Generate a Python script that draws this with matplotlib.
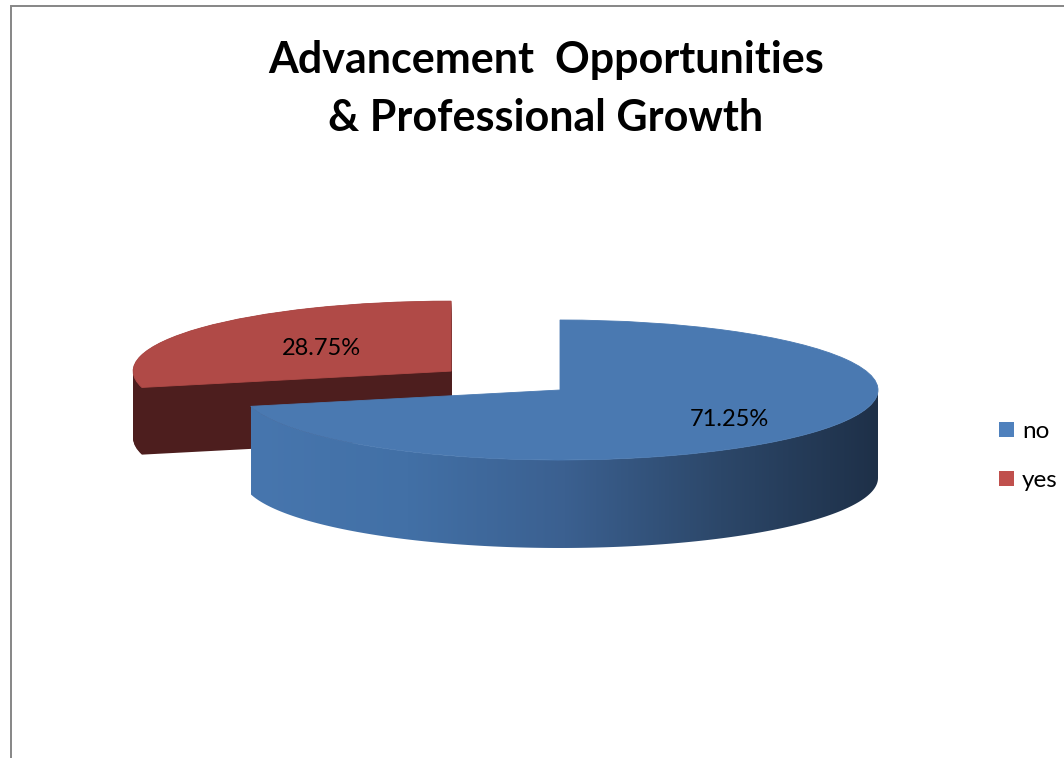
import matplotlib
matplotlib.use('Agg')
import matplotlib.pyplot as plt
import numpy as np
from matplotlib.patches import Polygon, Patch, Rectangle
from matplotlib.colors import LinearSegmentedColormap

plt.rcParams['font.family'] = ['Lato', 'DejaVu Sans']

# dados do grafico
categorias = ['no', 'yes']
percentuais = [71.25, 28.75]
explode = [0, 0.436]

titulo = 'Advancement  Opportunities\n& Professional Growth'

cor_topo = ['#4A79B1', '#B04A47']
cor_lado_verm = '#4D1E1E'
cor_legenda = ['#4F81BD', '#C0504D']

# altura da "fatia" em unidades de dados (y)
prof = [1.257, 0.96]
n_camadas = 80

fig = plt.figure(figsize=(10.64, 7.58), dpi=100)
ax = fig.add_axes([0, 0, 1, 1])

# moldura cinza do grafico
fig.patches.append(Rectangle((11 / 1064, -0.1), 1.2, 1.1 - 6 / 758,
                             transform=fig.transFigure, fill=False,
                             edgecolor='#868686', linewidth=1.4))

# lateral da fatia vermelha: varias pizzas empilhadas
for y0 in np.linspace(-prof[1], 0, n_camadas):
    ax.pie(percentuais, explode=explode, startangle=90, counterclock=False,
           center=(0, y0), colors=['none', cor_lado_verm],
           wedgeprops={'linewidth': 0, 'zorder': 1})

# topo das duas fatias
wedges, textos, autotextos = ax.pie(
    percentuais, explode=explode, startangle=90, counterclock=False,
    colors=cor_topo, autopct='%.2f%%', pctdistance=0.6,
    wedgeprops={'linewidth': 0.6, 'zorder': 4},
    textprops={'fontsize': 17, 'color': 'black'})
for wd, c in zip(wedges, cor_topo):
    wd.set_edgecolor(c)
wedges[1].set_zorder(1.5)

# lateral da fatia azul com degrade
w = wedges[0]
t1 = max(w.theta1, -180)
t2 = min(w.theta2, 0)
th = np.radians(np.linspace(t1, t2, 200))
cx, cy = w.center
topo = np.column_stack([cx + np.cos(th), cy + np.sin(th)])
base = np.column_stack([cx + np.cos(th[::-1]), cy + np.sin(th[::-1]) - prof[0]])
lado = Polygon(np.vstack([topo, base]), closed=True, transform=ax.transData)

cmap = LinearSegmentedColormap.from_list(
    'lado', ['#4776AE', '#4270A6', '#3B6090', '#2C4769', '#1E3048'])
grad = np.linspace(0, 1, 256).reshape(1, -1)
img = ax.imshow(grad, cmap=cmap, aspect='auto', zorder=3,
                interpolation='bilinear',
                extent=(cx + np.cos(th).min(), cx + 1, cy - prof[0] - 1.2, cy + 0.2))
img.set_clip_path(lado)

# posicao dos rotulos de porcentagem
dist = [0.68, 0.52]
for i, (wd, txt) in enumerate(zip(wedges, autotextos)):
    ang = np.radians((wd.theta1 + wd.theta2) / 2)
    x0, y0 = wd.center
    txt.set_position((x0 + dist[i] * np.cos(ang), y0 + dist[i] * np.sin(ang)))
    txt.set_zorder(6)

ax.set_aspect('auto')
ax.set_xlim(-560 / 318, (1064 - 560) / 318)
ax.set_ylim((390 - 758) / 70, 390 / 70)
ax.axis('off')

fig.text(546 / 1064, 1 - 40 / 758, titulo, ha='center', va='top',
         fontsize=31, fontweight='bold', linespacing=1.55)

fig.legend(handles=[Patch(facecolor=c, edgecolor='none') for c in cor_legenda],
           labels=categorias, loc='center left',
           bbox_to_anchor=(999 / 1064, 1 - 456 / 758), frameon=False,
           handlelength=0.6, handleheight=0.6, handletextpad=0.35,
           labelspacing=1.15, borderpad=0, borderaxespad=0, fontsize=17.5)

fig.savefig('out.png', dpi=100)
